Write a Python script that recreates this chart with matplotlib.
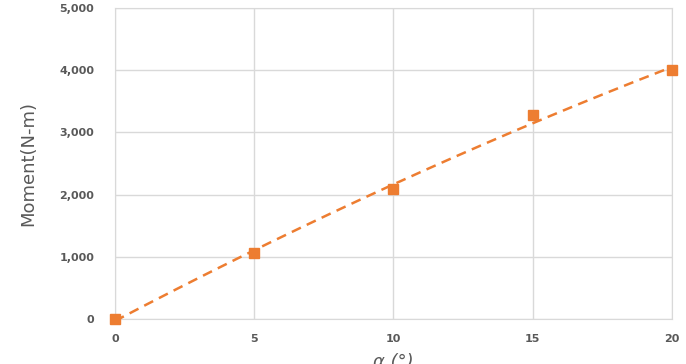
import numpy as np
import matplotlib
matplotlib.use("Agg")
import matplotlib.pyplot as plt
from matplotlib.ticker import FuncFormatter

# data
alpha = [0, 5, 10, 15, 20]
moment = [0, 1067, 2092, 3283, 3996]
x_ticks = [0, 5, 10, 15, 20]
y_ticks = [0, 1000, 2000, 3000, 4000, 5000]

ORANGE = "#ED7D31"
GRID = "#D9D9D9"
TXT = "#595959"

fig = plt.figure(figsize=(6.86, 3.64), dpi=100)
ax = fig.add_axes([0.1676, 0.1236, 0.8120, 0.8544])

# 2nd order trendline (dashed), like the excel one
coef = np.polyfit(alpha, moment, 2)
xs = np.linspace(0, 20, 200)
ax.plot(xs, np.polyval(coef, xs), color=ORANGE, lw=1.8, ls=(0, (4, 2.6)), zorder=3)

ax.plot(alpha, moment, ls="none", marker="s", ms=7.5, color=ORANGE, clip_on=False, zorder=4)

ax.set_xlim(0, 20)
ax.set_ylim(0, 5000)
ax.set_xticks(x_ticks)
ax.set_yticks(y_ticks)
ax.yaxis.set_major_formatter(FuncFormatter(lambda v, p: f"{int(v):,}"))
ax.grid(True, color=GRID, lw=1)
ax.set_axisbelow(True)
for s in ax.spines.values():
    s.set_color(GRID)
ax.tick_params(length=0, labelsize=8, labelcolor=TXT)
ax.tick_params(axis="y", pad=15)
ax.tick_params(axis="x", pad=11)
for lab in ax.get_xticklabels() + ax.get_yticklabels():
    lab.set_fontweight("bold")

ax.set_ylabel("Moment(N-m)", fontsize=13, color=TXT, labelpad=16)
ax.set_xlabel("α (°)", fontsize=13, color=TXT, style="italic", labelpad=6)

fig.savefig("out.png", dpi=100)
